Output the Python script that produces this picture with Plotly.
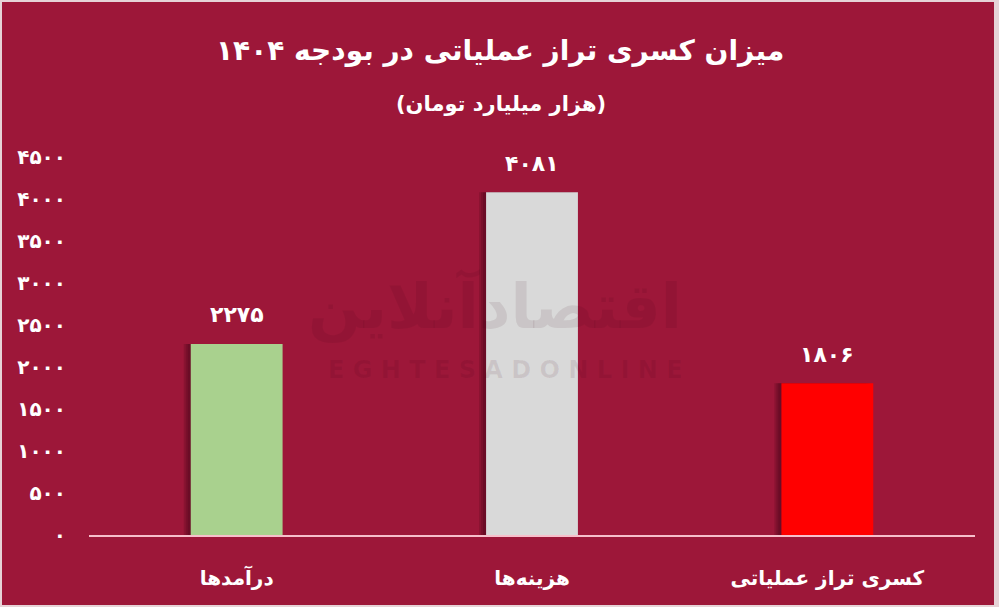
import plotly.graph_objects as go

# ---- data ----
categories = ["درآمدها", "هزینه‌ها", "کسری تراز عملیاتی"]
values = [2275, 4081, 1806]
bar_colors = ["#A9D18E", "#D9D9D9", "#FF0000"]
tick_values = [0, 500, 1000, 1500, 2000, 2500, 3000, 3500, 4000, 4500]

title_text = "میزان کسری تراز عملیاتی در بودجه ۱۴۰۴"
subtitle_text = "(هزار میلیارد تومان)"

FA_DIGITS = str.maketrans("0123456789", "۰۱۲۳۴۵۶۷۸۹")


def fa(n):
    return str(n).translate(FA_DIGITS)


BG = "#9D1739"
FRAME = "#E6D3D7"
AXIS = "#F7BFCB"
FONT = "DejaVu Sans"

W, H = 999, 607
L, R, T, B = 89, 24, 157, 72
PW, PH = W - L - R, H - T - B

def px_x(px):
    return (px - L) / PW

def px_y(py):
    return (H - B - py) / PH

bar_w = 0.311
cat_px = PW / len(categories)

fig = go.Figure()

# soft shadow on the left of each bar
for k in (7, 5, 3):
    fig.add_trace(go.Bar(
        x=categories, y=values,
        width=[bar_w] * len(values),
        offset=[-bar_w / 2 - k / cat_px] * len(values),
        marker=dict(color="rgba(40,0,10,0.16)", line=dict(width=0)),
        hoverinfo="skip", showlegend=False,
    ))

fig.add_trace(go.Bar(
    x=categories, y=values,
    width=[bar_w] * len(values),
    offset=[-bar_w / 2] * len(values),
    marker=dict(color=bar_colors, line=dict(width=0)),
    showlegend=False,
))

annotations = []
for c, v in zip(categories, values):
    annotations.append(dict(
        x=c, y=v, xref="x", yref="y", text=fa(v), showarrow=False,
        yshift=29, font=dict(family=FONT, size=22, color="white", weight="bold"),
    ))

annotations.append(dict(
    x=px_x(500), y=px_y(50), xref="paper", yref="paper", text=title_text,
    showarrow=False, xanchor="center", yanchor="middle",
    font=dict(family=FONT, size=28, color="white", weight="bold"),
))
annotations.append(dict(
    x=px_x(501), y=px_y(104), xref="paper", yref="paper", text=subtitle_text,
    showarrow=False, xanchor="center", yanchor="middle",
    font=dict(family=FONT, size=21, color="white", weight="bold"),
))
# faint watermark
annotations.append(dict(
    x=px_x(495), y=px_y(305), xref="paper", yref="paper", text="اقتصادآنلاین",
    showarrow=False, xanchor="center", yanchor="middle",
    font=dict(family=FONT, size=62, color="rgba(60,0,20,0.09)", weight="bold"),
))
annotations.append(dict(
    x=px_x(505), y=px_y(370), xref="paper", yref="paper",
    text="E G H T E S A D O N L I N E",
    showarrow=False, xanchor="center", yanchor="middle",
    font=dict(family=FONT, size=24, color="rgba(60,0,20,0.09)", weight="bold"),
))

shapes = [
    dict(type="rect", xref="paper", yref="paper", layer="below",
         x0=px_x(2), x1=px_x(994), y0=px_y(605), y1=px_y(2),
         fillcolor=BG, line=dict(width=0)),
]

fig.update_layout(
    width=W, height=H,
    margin=dict(l=L, r=R, t=T, b=B, pad=0),
    paper_bgcolor=FRAME, plot_bgcolor=BG,
    barmode="overlay", bargap=0.69,
    annotations=annotations, shapes=shapes,
    font=dict(family=FONT, color="white"),
    xaxis=dict(
        type="category", showgrid=False, zeroline=False,
        showline=True, linecolor=AXIS, linewidth=2,
        ticks="", ticklabelstandoff=24,
        tickfont=dict(family=FONT, size=20, color="white", weight="bold"),
        fixedrange=True,
    ),
    yaxis=dict(
        range=[0, 4500], showgrid=False, zeroline=False, showline=False,
        tickvals=tick_values, ticktext=[fa(v) for v in tick_values],
        ticks="", ticklabelstandoff=22,
        tickfont=dict(family=FONT, size=20, color="white", weight="bold"),
        fixedrange=True,
    ),
)

fig.write_html(
    "out.html",
    config={"displayModeBar": False},
    post_script="document.body.style.margin='0';document.body.style.overflow='hidden';",
)
